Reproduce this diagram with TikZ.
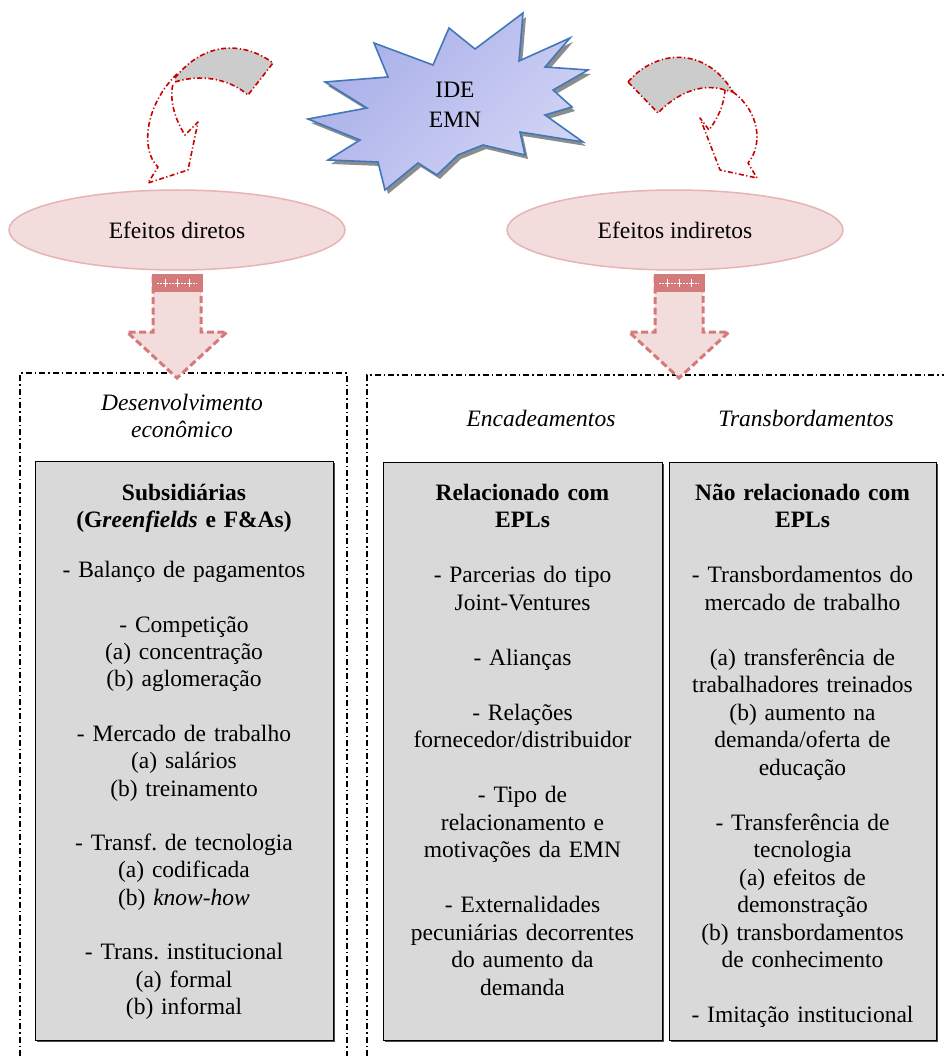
\documentclass[tikz,border=0pt]{standalone}
\usepackage{fontspec}
\setmainfont{Liberation Serif}
\usetikzlibrary{shapes.geometric,shadows}
\frenchspacing

\definecolor{pinkfill}{RGB}{242,220,220}
\definecolor{pinkline}{RGB}{230,180,180}
\definecolor{arrowred}{RGB}{213,122,122}
\definecolor{curlred}{RGB}{200,0,0}
\definecolor{bandgray}{RGB}{204,204,204}
\definecolor{boxgray}{RGB}{217,217,217}
\definecolor{burstA}{RGB}{168,174,232}
\definecolor{burstB}{RGB}{210,212,245}
\definecolor{burstline}{RGB}{65,120,185}

\newcommand{\bodyfont}{\fontsize{23.5}{27.5}\selectfont}
\newcommand{\burstpts}{(523,13) -- (519,61) -- (570,38) -- (545,67) -- (588,70) -- (553,90) -- (572,107) -- (545,115) -- (583,142) -- (520,132) -- (525,155) -- (483,145) -- (458,155) -- (437,175) -- (418,163) -- (385,190) -- (378,162) -- (328,160) -- (360,140) -- (308,119) -- (367,108) -- (325,82) -- (388,77) -- (374,43) -- (433,65) -- (449,28) -- (475,49) -- cycle}

\tikzset{
  efeito/.style={ellipse,draw=pinkline,fill=pinkfill,line width=1.5pt,
    minimum width=336pt,minimum height=80pt,font=\bodyfont},
  rotulo/.style={font=\bodyfont\itshape,align=center,inner sep=0pt,anchor=north,
    execute at begin node=\strut},
  caixa/.style={draw=black,fill=boxgray,line width=1pt,
    drop shadow={shadow xshift=1.5pt,shadow yshift=-1.5pt,fill=black!70,opacity=1}},
  conteudo/.style={font=\bodyfont,align=center,text width=#1,inner sep=0pt,anchor=north,
    execute at begin node=\strut},
  limite/.style={line width=1.3pt,dash pattern=on 6pt off 3pt on 1.5pt off 3pt},
  curva/.style={draw=curlred,line width=1.6pt,line join=round,
    dash pattern=on 5pt off 2.5pt on 1.2pt off 2.5pt},
  seta/.style={fill=pinkfill,draw=arrowred,line width=3pt,dash pattern=on 7pt off 3.5pt}
}

\begin{document}
\begin{tikzpicture}[x=1pt,y=-1pt]
\useasboundingbox (0,0) rectangle (944,1056);

% estrela IDE / EMN
\fill[black!45,shift={(3,4)}] \burstpts;
\shade[left color=burstA,right color=burstB,shading angle=45] \burstpts;
\draw[burstline,line width=1.6pt,line join=miter] \burstpts;
\node[font=\bodyfont,align=center] (ide) at (455,105) {IDE\\[2pt]EMN};

% setas curvas
\fill[bandgray] (175,78) .. controls (205,40) and (245,42) .. (273,63) -- (248,95) .. controls (228,78) and (200,74) .. (175,82) -- cycle;
\draw[curva] (175,78) .. controls (205,40) and (245,42) .. (273,63) -- (248,95) .. controls (228,78) and (200,74) .. (175,82);
\draw[curva] (177,74) .. controls (145,105) and (140,150) .. (158,167) -- (148,183) -- (188,170) -- (198,122) -- (185,135) .. controls (172,115) and (170,95) .. (173,84);

\fill[bandgray] (628,82) .. controls (655,50) and (705,45) .. (733,92) -- (725,90) .. controls (700,82) and (675,95) .. (658,113) -- cycle;
\draw[curva] (628,82) .. controls (655,50) and (705,45) .. (733,92) -- (725,90) .. controls (700,82) and (675,95) .. (658,113) -- cycle;
\draw[curva] (733,92) .. controls (760,112) and (763,145) .. (748,163) -- (757,178) -- (720,170) -- (700,118) -- (709,130) .. controls (718,118) and (724,105) .. (725,90);

% efeitos
\node[efeito] (direto) at (177,230) {Efeitos diretos};
\node[efeito] (indireto) at (675,230) {Efeitos indiretos};

% molduras
\draw[limite] (20,1056) -- (20,373) -- (347,373) -- (347,1056);
\draw[limite] (367,1056) -- (367,375) -- (944,375);

% setas para baixo
\foreach \cx in {177,679} {
  \path[seta] (\cx-24,276) -- (\cx-24,332) -- (\cx-50,332) -- (\cx,378) -- (\cx+50,332) -- (\cx+24,332) -- (\cx+24,276) -- cycle;
  \fill[arrowred] (\cx-25.5,274.5) rectangle (\cx+25.5,292);
  \draw[white,line width=0.8pt,dash pattern=on 2pt off 1pt] (\cx-20,283) -- (\cx+20,283);
  \foreach \dx in {-12,0,12}
    \draw[white,line width=0.8pt] (\cx+\dx,279) -- (\cx+\dx,287);
}

% titulos
\node[rotulo] (desenv) at (182,393.75) {Desenvolvimento\\econômico};
\node[rotulo] (encad) at (541,406.75) {Encadeamentos};
\node[rotulo] (transb) at (806,406.75) {Transbordamentos};

% caixas
\path[caixa] (35,461) rectangle (333,1040);
\path[caixa] (383,462) rectangle (662,1040);
\path[caixa] (669,462) rectangle (936,1040);

\node[conteudo=290pt,font=\fontsize{23.5}{27.3}\selectfont] (subs) at (184,480.75) {%
\textbf{Subsidiárias}\\
\textbf{(G\textit{reenfields} e F\&As)}\\[23pt]
- Balanço de pagamentos\\[27.3pt]
- Competição\\
(a) concentração\\
(b) aglomeração\\[27.3pt]
- Mercado de trabalho\\
(a) salários\\
(b) treinamento\\[27.3pt]
- Transf. de tecnologia\\
(a) codificada\\
(b) \textit{know-how}\\[27.3pt]
- Trans. institucional\\
(a) formal\\
(b) informal};

\node[conteudo=272pt] (rel) at (522.5,480.75) {%
\textbf{Relacionado com}\\
\textbf{EPLs}\\[27.5pt]
- Parcerias do tipo\\
Joint-Ventures\\[27.5pt]
- Alianças\\[27.5pt]
- Relações\\
fornecedor/distribuidor\\[27.5pt]
- Tipo de\\
relacionamento e\\
motivações da EMN\\[27.5pt]
- Externalidades\\
pecuniárias decorrentes\\
do aumento da\\
demanda};

\node[conteudo=262pt] (naorel) at (802.5,480.75) {%
\textbf{Não relacionado com}\\
\textbf{EPLs}\\[27.5pt]
- Transbordamentos do\\
mercado de trabalho\\[27.5pt]
(a) transferência de\\
trabalhadores treinados\\
(b) aumento na\\
demanda/oferta de\\
educação\\[27.5pt]
- Transferência de\\
tecnologia\\
(a) efeitos de\\
demonstração\\
(b) transbordamentos\\
de conhecimento\\[27.5pt]
- Imitação institucional};
\end{tikzpicture}
\end{document}
